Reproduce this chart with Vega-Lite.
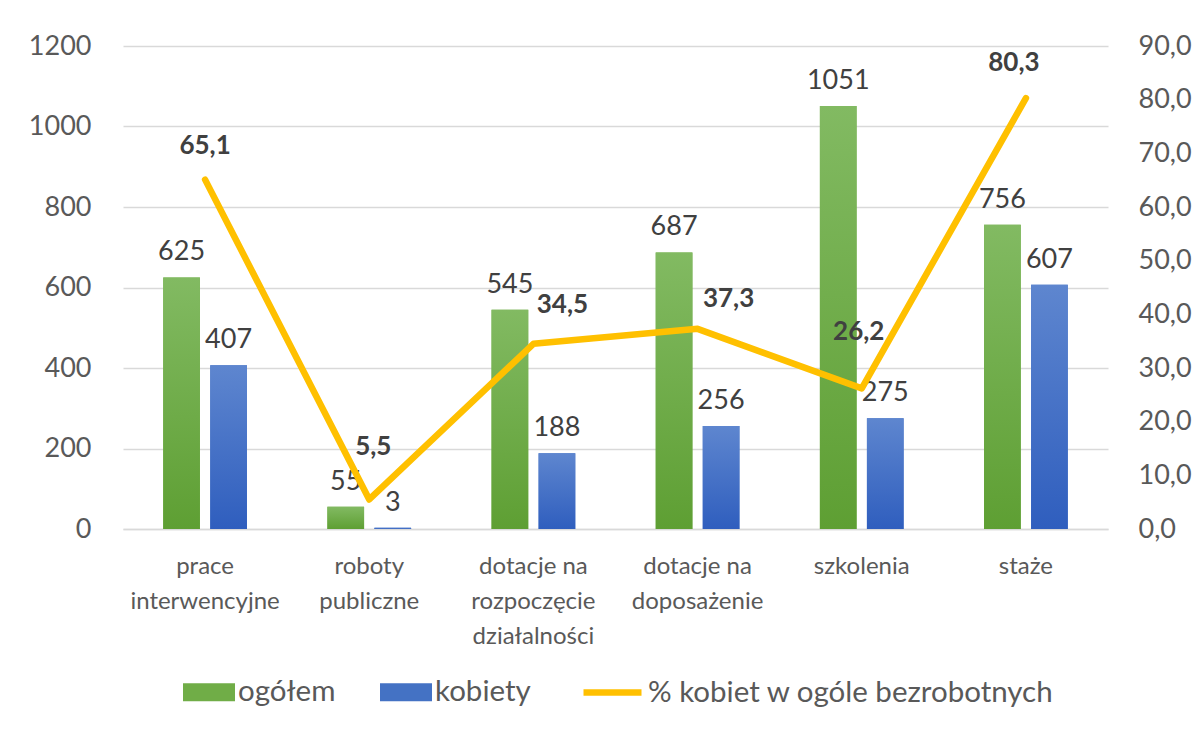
{
  "$schema": "https://vega.github.io/schema/vega-lite/v6.json",
  "width": 985,
  "height": 483,
  "autosize": "none",
  "padding": {"left": 123, "top": 46, "right": 94, "bottom": 202},
  "background": "white",
  "config": {
    "font": "Lato",
    "view": {"stroke": null},
    "locale": {"number": {"decimal": ",", "thousands": "", "grouping": [3], "currency": ["", " zł"]}},
    "axis": {"labelColor": "#595959", "labelFont": "Lato", "ticks": false, "domain": false, "gridColor": "#D9D9D9", "gridWidth": 1.3},
    "text": {"baseline": "alphabetic", "fontSize": 26, "fontWeight": "bold", "color": "#404040"}
  },
  "datasets": {
    "slupki": [
      {"kategoria": "prace|interwencyjne", "seria": "ogółem", "wartosc": 625},
      {"kategoria": "prace|interwencyjne", "seria": "kobiety", "wartosc": 407},
      {"kategoria": "roboty|publiczne", "seria": "ogółem", "wartosc": 55},
      {"kategoria": "roboty|publiczne", "seria": "kobiety", "wartosc": 3},
      {"kategoria": "dotacje na|rozpoczęcie|działalności", "seria": "ogółem", "wartosc": 545},
      {"kategoria": "dotacje na|rozpoczęcie|działalności", "seria": "kobiety", "wartosc": 188},
      {"kategoria": "dotacje na|doposażenie", "seria": "ogółem", "wartosc": 687},
      {"kategoria": "dotacje na|doposażenie", "seria": "kobiety", "wartosc": 256},
      {"kategoria": "szkolenia", "seria": "ogółem", "wartosc": 1051},
      {"kategoria": "szkolenia", "seria": "kobiety", "wartosc": 275},
      {"kategoria": "staże", "seria": "ogółem", "wartosc": 756},
      {"kategoria": "staże", "seria": "kobiety", "wartosc": 607}
    ],
    "procent": [
      {"kategoria": "prace|interwencyjne", "procent": 65.1},
      {"kategoria": "roboty|publiczne", "procent": 5.5},
      {"kategoria": "dotacje na|rozpoczęcie|działalności", "procent": 34.5},
      {"kategoria": "dotacje na|doposażenie", "procent": 37.3},
      {"kategoria": "szkolenia", "procent": 26.2},
      {"kategoria": "staże", "procent": 80.3}
    ]
  },
  "layer": [
    {
      "data": {"name": "slupki"},
      "encoding": {
        "x": {
          "field": "kategoria", "type": "nominal", "sort": null,
          "scale": {"paddingInner": 0.49, "paddingOuter": 0.245},
          "axis": {"title": null, "labelAngle": 0, "labelExpr": "split(datum.label, '|')", "labelFontSize": 24, "labelLineHeight": 35, "labelPadding": 25, "domain": true, "domainColor": "#D9D9D9", "domainWidth": 1.5, "grid": false, "labelLimit": 300}
        },
        "xOffset": {"field": "seria", "type": "nominal", "scale": {"domain": ["ogółem", "kobiety"], "paddingInner": 0.22, "paddingOuter": 0}},
        "y": {
          "field": "wartosc", "type": "quantitative",
          "scale": {"domain": [0, 1200], "nice": false},
          "axis": {"title": null, "values": [0, 200, 400, 600, 800, 1000, 1200], "labelFontSize": 27, "labelPadding": 32, "format": "d"}
        }
      },
      "layer": [
        {
          "mark": {"type": "bar"},
          "encoding": {
            "color": {
              "field": "seria", "type": "nominal",
              "scale": {"domain": ["ogółem", "kobiety"], "range": ["#70AD47", "#4472C4"]},
              "legend": {"title": null, "orient": "none", "legendX": 60, "legendY": 620, "direction": "horizontal", "symbolType": "M-1,-0.35L1,-0.35L1,0.35L-1,0.35Z", "symbolSize": 2704, "symbolStrokeWidth": 0, "labelFontSize": 29.5, "labelColor": "#595959", "labelOffset": 3, "columnPadding": 44, "padding": 0, "labelLimit": 500}
            }
          }
        },
        {
          "transform": [{"filter": "datum.seria === 'ogółem'"}],
          "mark": {"type": "bar", "color": {"gradient": "linear", "x1": 0, "y1": 0, "x2": 0, "y2": 1, "stops": [{"offset": 0, "color": "#82BA62"}, {"offset": 1, "color": "#5E9F33"}]}}
        },
        {
          "transform": [{"filter": "datum.seria === 'kobiety'"}],
          "mark": {"type": "bar", "color": {"gradient": "linear", "x1": 0, "y1": 0, "x2": 0, "y2": 1, "stops": [{"offset": 0, "color": "#5E86CF"}, {"offset": 1, "color": "#2F5EBE"}]}}
        },
        {
          "mark": {"type": "text", "dy": -17, "fontSize": 27, "fontWeight": "normal"},
          "encoding": {"text": {"field": "wartosc", "type": "quantitative", "format": "d"}}
        }
      ]
    },
    {
      "data": {"name": "procent"},
      "encoding": {
        "x": {"field": "kategoria", "type": "nominal", "sort": null},
        "y": {
          "field": "procent", "type": "quantitative",
          "scale": {"domain": [0, 90], "nice": false},
          "axis": {"title": null, "orient": "right", "values": [0, 10, 20, 30, 40, 50, 60, 70, 80, 90], "format": ".1f", "labelFontSize": 27, "labelPadding": 30, "grid": false}
        },
        "text": {"field": "procent", "type": "quantitative", "format": ".1f"}
      },
      "layer": [
        {
          "mark": {"type": "line", "strokeWidth": 6.5, "strokeCap": "round", "strokeJoin": "round"},
          "encoding": {
            "text": null,
            "stroke": {
              "datum": "% kobiet w ogóle bezrobotnych",
              "scale": {"range": ["#FFC000"]},
              "legend": {"title": null, "orient": "none", "legendX": 457, "legendY": 614, "symbolType": "stroke", "symbolSize": 3364, "symbolStrokeWidth": 6.5, "labelFontSize": 29.5, "labelColor": "#595959", "labelOffset": 3, "padding": 0, "labelLimit": 600}
            }
          }
        },
        {"transform": [{"filter": "datum.procent === 65.1"}], "mark": {"type": "text", "dy": -26}},
        {"transform": [{"filter": "datum.procent === 5.5"}], "mark": {"type": "text", "dy": -44, "dx": 4}},
        {"transform": [{"filter": "datum.procent === 34.5"}], "mark": {"type": "text", "dy": -31, "dx": 29}},
        {"transform": [{"filter": "datum.procent === 37.3"}], "mark": {"type": "text", "dy": -22, "dx": 31}},
        {"transform": [{"filter": "datum.procent === 26.2"}], "mark": {"type": "text", "dy": -48, "dx": -3}},
        {"transform": [{"filter": "datum.procent === 80.3"}], "mark": {"type": "text", "dy": -27, "dx": -12}}
      ]
    }
  ],
  "resolve": {"scale": {"y": "independent"}}
}
